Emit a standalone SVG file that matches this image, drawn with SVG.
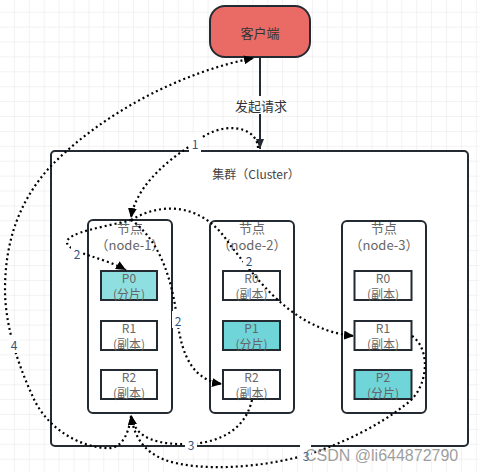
<svg xmlns="http://www.w3.org/2000/svg" width="479" height="472" viewBox="0 0 479 472">
<style>
.t{font-family:"Noto Sans CJK SC","Noto Sans",sans-serif;text-anchor:middle;dominant-baseline:central}
.box{fill:#ffffff;stroke:#232a31;stroke-width:2}
.nt{font-size:13px;fill:#666666}
.it{font-size:12px;fill:#666666}
.dot{fill:none;stroke:#000000;stroke-width:2.2;stroke-dasharray:2 3}
.lb{fill:#ffffff}
.ln{font-size:12px;fill:#2f5580}
</style>
<defs>
<pattern id="grid" width="14.9" height="14.9" patternUnits="userSpaceOnUse" x="0" y="12.7">
<path d="M14.9 0V14.9M0 14.9H14.9" fill="none" stroke="#e6e6e6" stroke-width="1"/>
</pattern>
<marker id="ah" markerUnits="userSpaceOnUse" markerWidth="12" markerHeight="10" refX="10" refY="4.5" orient="auto">
<path d="M0,0 L10,4.5 L0,9 Z" fill="#000000"/>
</marker>
<marker id="ah2" markerUnits="userSpaceOnUse" markerWidth="12" markerHeight="10" refX="10" refY="4" orient="auto">
<path d="M0,0 L10,4 L0,8 Z" fill="#232a31"/>
</marker>
</defs>
<rect width="479" height="472" fill="#ffffff"/>
<rect width="479" height="472" fill="url(#grid)"/>

<g id="client">
<rect x="210" y="6" width="100" height="51" rx="15" fill="#ea6b66" stroke="#232a31" stroke-width="2"/>
<text class="t" x="260" y="32" font-size="13" fill="#333333">客户端</text>
</g>

<g id="cluster">
<rect x="51" y="151" width="417" height="295" rx="4" class="box"/>
<text class="t" x="256" y="173" font-size="12" fill="#444444">集群（Cluster）</text>
</g>

<g id="node-1">
<rect x="88" y="220" width="84" height="193" rx="5" class="box"/>
<text class="t nt" x="130" y="227">节点</text>
<text class="t nt" x="130" y="244">（node-1）</text>
<g id="node-1-P0"><rect x="101" y="271" width="56" height="29" fill="#8fdfe0" stroke="#232a31" stroke-width="2"/>
<text class="t it" x="129" y="277">P0</text><text class="t it" x="129" y="293">(分片)</text></g>
<g id="node-1-R1"><rect x="101" y="321" width="56" height="29" class="box"/>
<text class="t it" x="129" y="327">R1</text><text class="t it" x="129" y="343">(副本)</text></g>
<g id="node-1-R2"><rect x="101" y="370" width="56" height="29" class="box"/>
<text class="t it" x="129" y="376">R2</text><text class="t it" x="129" y="392">(副本)</text></g>
</g>

<g id="node-2">
<rect x="210" y="221" width="84" height="192" rx="5" class="box"/>
<text class="t nt" x="252" y="227">节点</text>
<text class="t nt" x="252" y="244">（node-2）</text>
<g id="node-2-R0"><rect x="223" y="271" width="57" height="29" class="box"/>
<text class="t it" x="251.5" y="277">R0</text><text class="t it" x="251.5" y="293">(副本)</text></g>
<g id="node-2-P1"><rect x="223" y="321" width="57" height="29" fill="#6fd5d8" stroke="#232a31" stroke-width="2"/>
<text class="t it" x="251.5" y="327">P1</text><text class="t it" x="251.5" y="343">(分片)</text></g>
<g id="node-2-R2"><rect x="223" y="370" width="57" height="29" class="box"/>
<text class="t it" x="251.5" y="376">R2</text><text class="t it" x="251.5" y="392">(副本)</text></g>
</g>

<g id="node-3">
<rect x="342" y="221" width="84" height="192" rx="5" class="box"/>
<text class="t nt" x="384" y="227">节点</text>
<text class="t nt" x="384" y="244">（node-3）</text>
<g id="node-3-R0"><rect x="354.5" y="271" width="57" height="29" class="box"/>
<text class="t it" x="383" y="277">R0</text><text class="t it" x="383" y="293">(副本)</text></g>
<g id="node-3-R1"><rect x="354.5" y="321" width="57" height="29" class="box"/>
<text class="t it" x="383" y="327">R1</text><text class="t it" x="383" y="343">(副本)</text></g>
<g id="node-3-P2"><rect x="354.5" y="370" width="57" height="29" fill="#6fd5d8" stroke="#232a31" stroke-width="2"/>
<text class="t it" x="383" y="376">P2</text><text class="t it" x="383" y="392">(分片)</text></g>
</g>

<g id="connectors">
<path d="M260,58 V149" fill="none" stroke="#232a31" stroke-width="2" marker-end="url(#ah2)"/>
<rect x="233" y="96" width="55" height="18" class="lb"/>
<text class="t" x="261" y="105" font-size="13" fill="#333333">发起请求</text>

<path class="dot" d="M258,148 C257,125 220,120 195,143 C162,163 135,190 131,218" marker-end="url(#ah)"/>
<path class="dot" d="M131,220 C110,226 65,232 67,243 C70,253 105,258 126,270" marker-end="url(#ah)"/>
<path class="dot" d="M131,220 C160,240 172,280 177,318 C182,360 195,380 222,384" marker-end="url(#ah)"/>
<path class="dot" d="M131,220 C165,200 205,205 230,245 C255,275 290,330 354,336" marker-end="url(#ah)"/>
<path class="dot" d="M252,400 C245,430 220,442 191,444 C160,445 135,440 131,415" marker-end="url(#ah)"/>
<path class="dot" d="M412,336 C432,350 428,390 405,405 C380,425 340,445 306,455 C260,468 200,472 165,460 C145,452 134,438 131,415" marker-end="url(#ah)"/>
<path class="dot" d="M131,416 C128,440 118,450 105,448 C75,446 45,425 33,397 C18,365 5,325 5,290 C5,240 20,200 50,167 C100,115 180,72 254,58" marker-end="url(#ah)"/>

<rect x="189" y="134" width="12" height="19" class="lb"/><text class="t ln" x="195" y="143">1</text>
<rect x="71" y="245" width="12" height="17" class="lb"/><text class="t ln" x="77" y="253">2</text>
<rect x="172" y="311" width="12" height="17" class="lb"/><text class="t ln" x="178" y="320">2</text>
<rect x="243" y="252" width="12" height="17" class="lb"/><text class="t ln" x="249" y="260">2</text>
<rect x="185" y="435" width="12" height="18" class="lb"/><text class="t ln" x="191" y="444">3</text>
<rect x="300" y="445" width="11" height="19" class="lb"/><text class="t ln" x="306" y="455">3</text>
<rect x="8" y="335" width="12" height="18" class="lb"/><text class="t ln" x="14" y="344">4</text>
</g>

<text x="305" y="461" font-family="Liberation Sans, Arial, sans-serif" font-size="16" fill="#8c8c8c" fill-opacity="0.85">CSDN @li644872790</text>
</svg>
